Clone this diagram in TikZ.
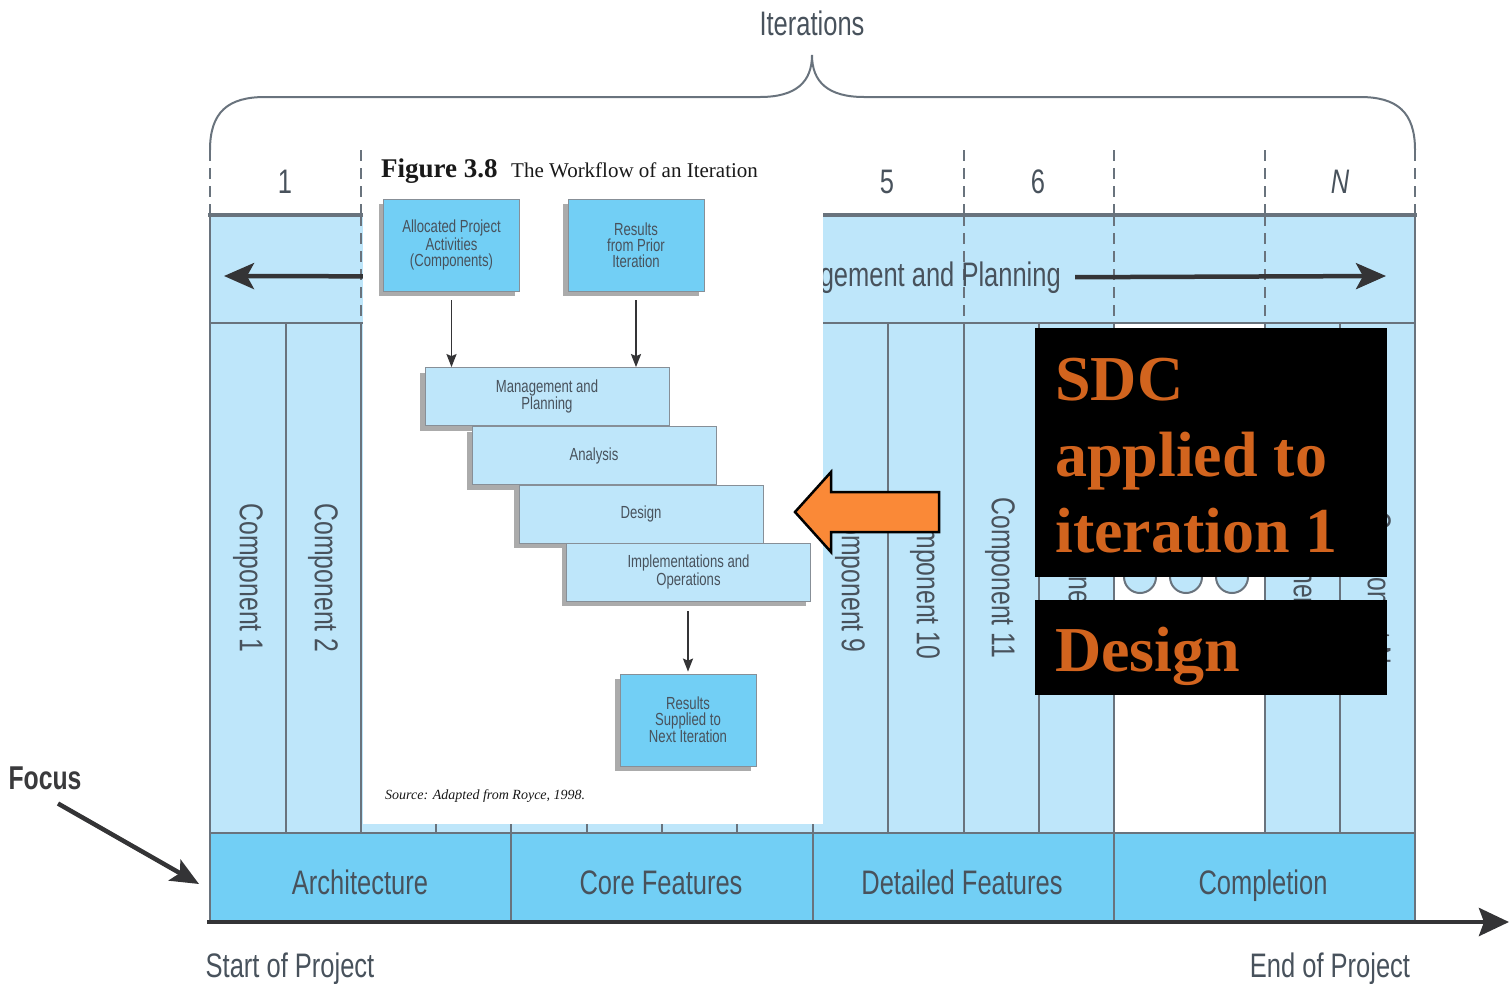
\documentclass[tikz,border=0pt]{standalone}
\usepackage{fontspec}
\setmainfont{Liberation Serif}
\newfontfamily\cnd[FakeStretch=0.75]{Liberation Sans}
\usetikzlibrary{arrows.meta,shadows}

\definecolor{paleblue}{RGB}{190,230,250}
\definecolor{midblue}{RGB}{114,207,245}
\definecolor{rule}{RGB}{105,115,125}
\definecolor{ink}{RGB}{72,82,92}
\definecolor{arrowink}{RGB}{52,52,54}
\definecolor{focusink}{RGB}{58,58,60}
\definecolor{sdcorange}{RGB}{210,100,30}
\definecolor{calloutorange}{RGB}{250,137,55}

\tikzset{
  lbl/.style={font=\cnd\fontsize{34}{34}\selectfont, text=ink, inner sep=0pt},
  complbl/.style={font=\cnd\fontsize{33}{33}\selectfont, text=ink, inner sep=0pt, rotate=-90},
  divider/.style={draw=rule, line width=2.5pt},
  iterdash/.style={draw=rule, line width=2pt, dash pattern=on 11pt off 7pt},
  heavyarrow/.style={draw=arrowink, line width=4.5pt, -{Stealth[length=30pt,width=26pt,inset=7pt]}},
  flowarrow/.style={draw=arrowink, line width=1.8pt, -{Stealth[length=13pt,width=10pt,inset=2pt]}},
  boxbase/.style={draw=rule!80, line width=0.8pt, text=ink, font=\cnd\fontsize{17.5}{16}\selectfont,
    align=center, inner sep=0pt,
    drop shadow={shadow xshift=-5pt, shadow yshift=-5pt, fill=black!60, opacity=0.55}},
  sourcebox/.style={boxbase, fill=midblue, minimum width=136pt, minimum height=92pt},
  stagebox/.style={boxbase, fill=paleblue, minimum width=244pt, minimum height=58pt},
  blackpanel/.style={fill=black, inner sep=0pt, minimum width=352pt},
  sdctext/.style={text=sdcorange, font=\bfseries\fontsize{64}{64}\selectfont, inner sep=0pt, anchor=base west},
}

\begin{document}
\begin{tikzpicture}[x=1pt,y=-1pt]
\useasboundingbox (0,0) rectangle (1509,983);

% ---- bands ----
\fill[paleblue] (210,215) rectangle (1415,833);
\fill[white] (1114,323) rectangle (1265,833);
\fill[midblue] (210,833) rectangle (1415,922);

% iteration separators
\foreach \x in {210,361,964,1114,1265,1415} \draw[iterdash] (\x,150) -- (\x,215);
\foreach \x in {361,964,1114,1265} \draw[iterdash] (\x,215) -- (\x,323);

% component and phase dividers
\foreach \x in {286,361,436,511,587,662,737,813,888,964,1039,1114,1265,1340}
  \draw[divider] (\x,323) -- (\x,833);
\foreach \x in {511,813,1114} \draw[divider] (\x,833) -- (\x,922);
\draw[rule, line width=3.5pt] (208,215) -- (1417,215);
\draw[divider] (210,323) -- (1415,323);
\draw[divider] (210,833) -- (1415,833);
\draw[divider] (210,215) -- (210,922);
\draw[divider] (1415,215) -- (1415,922);

% ---- brace over the iterations ----
\draw[rule, line width=2pt] (210,150) .. controls (210,112) and (228,97) .. (265,97) -- (760,97)
  .. controls (796,97) and (812,82) .. (812,55)
  .. controls (812,82) and (828,97) .. (864,97) -- (1360,97)
  .. controls (1397,97) and (1415,112) .. (1415,150);
\node[lbl, anchor=base] (iters) at (812,35) {Iterations};

% iteration numbers
\node[lbl, anchor=base] (it1) at (285,193) {1};
\node[lbl, anchor=base] (it5) at (887,193) {5};
\node[lbl, anchor=base] (it6) at (1038,193) {6};
\node[lbl, anchor=base] (itN) at (1340,193) {\itshape N};

% management band
\node[lbl, anchor=base east] (mgmt) at (1061,286) {Management and Planning};
\coordinate (mgmtleft) at (224,276);
\coordinate (mgmtright) at (1386,276);
\draw[heavyarrow] ([xshift=-14pt]mgmt.west) -- (mgmtleft);
\draw[heavyarrow] ([xshift=14pt]mgmt.east) -- (mgmtright);

% components
\node[complbl] (c1) at (248,578) {Component 1};
\node[complbl] (c2) at (323,578) {Component 2};
\node[complbl] (c9) at (850,578) {Component 9};
\node[complbl] (c10) at (925,578) {Component 10};
\node[complbl] (c11) at (1000,578) {Component 11};
\node[complbl] (c12) at (1077,578) {Component 12};
\node[complbl] (cm) at (1302,578) {Component N-1};
\node[complbl] (cn) at (1376,588) {Component N};

% ellipsis in the open iteration
\foreach \x in {1140,1186,1232}
  \draw[rule, line width=2pt, fill=paleblue] (\x,577) circle (16pt);

% phases
\node[lbl, anchor=base] (arch) at (360,894) {Architecture};
\node[lbl, anchor=base] (core) at (661,894) {Core Features};
\node[lbl, anchor=base] (detail) at (962,894) {Detailed Features};
\node[lbl, anchor=base] (compl) at (1263,894) {Completion};

% time axis
\coordinate (axisstart) at (207,922);
\coordinate (axisend) at (1509,922);
\draw[draw=arrowink, line width=4.5pt, -{Stealth[length=30pt,width=28pt,inset=5pt]}] (axisstart) -- (axisend);
\node[lbl, anchor=base] (start) at (290,977) {Start of Project};
\node[lbl, anchor=base] (end) at (1330,977) {End of Project};

% focus pointer
\node[lbl, font=\cnd\bfseries\fontsize{33}{33}\selectfont, text=focusink, anchor=base] (focus) at (45,789) {Focus};
\coordinate (focustip) at (199,884);
\draw[heavyarrow, -{Stealth[length=28pt,width=24pt,inset=6pt]}] ([xshift=13pt,yshift=-14pt]focus.south) -- (focustip);

% ---- workflow of an iteration (inset page) ----
\fill[white] (363,148) rectangle (823,824);
\node[anchor=base west, inner sep=0pt, font=\bfseries\fontsize{27}{27}\selectfont, text=black!90] (figno) at (381,177) {Figure 3.8};
\node[anchor=base west, inner sep=0pt, font=\fontsize{21}{21}\selectfont, text=black!90] (figcap) at (511,177) {The Workflow of an Iteration};

\node[sourcebox] (alloc) at (451.5,245) {Allocated Project\\Activities\\(Components)};
\node[sourcebox] (prior) at (636,245) {Results\\from Prior\\Iteration};

\node[stagebox] (mp) at (547,396.5) {Management and\\Planning};
\node[stagebox] (an) at (594,455.5) {Analysis};
\node[stagebox] (de) at (641,514) {Design};
\node[stagebox] (im) at (688.5,572) {Implementations and\\Operations};

\node[sourcebox] (next) at (688,720) {Results\\Supplied to\\Next Iteration};

\draw[flowarrow, shorten <=9pt] (alloc.south) -- (alloc.south |- mp.north);
\draw[flowarrow, shorten <=9pt] (prior.south) -- (prior.south |- mp.north);
\draw[flowarrow, shorten <=10pt, shorten >=2pt] (im.south -| next.north) -- (next.north);

\node[anchor=base west, inner sep=0pt, font=\itshape\fontsize{14}{14}\selectfont, text=black!90] (src) at (385,799) {Source: Adapted from Royce, 1998.};

% ---- callout arrow ----
\draw[black, line width=2.5pt, fill=calloutorange, line join=miter]
  (795,512) -- (831,472) -- (831,492) -- (939,492) -- (939,532) -- (831,532) -- (831,552) -- cycle;

% ---- black panels ----
\node[blackpanel, minimum height=249pt] (sdcpanel) at (1211,452.5) {};
\node[sdctext] (sdc1) at (1055,400) {SDC};
\node[sdctext] (sdc2) at (1055,476) {applied to};
\node[sdctext] (sdc3) at (1055,552) {iteration 1};
\node[blackpanel, minimum height=95pt] (designpanel) at (1211,647.5) {};
\node[sdctext] (design) at (1055,671) {Design};

\end{tikzpicture}
\end{document}
